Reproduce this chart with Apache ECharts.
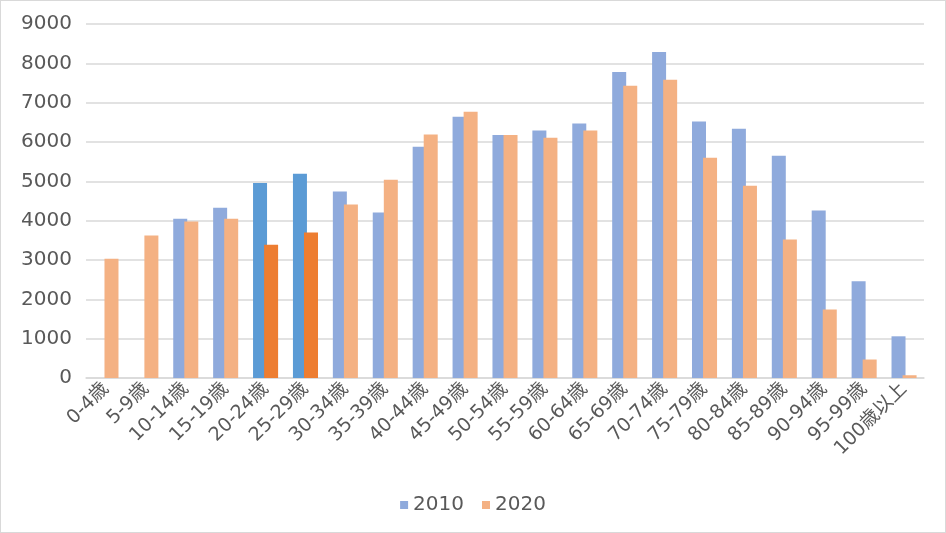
<!DOCTYPE html>
<html><head><meta charset="utf-8">
<script src="https://cdn.jsdelivr.net/npm/echarts@6/dist/echarts.min.js"></script>
<style>html,body{margin:0;padding:0;background:#fff}#c{width:946px;height:533px;box-sizing:border-box;border:1px solid #D9D9D9}</style>
</head><body><div id="c"></div>
<script>
const categories = ['0-4歳','5-9歳','10-14歳','15-19歳','20-24歳','25-29歳','30-34歳','35-39歳','40-44歳','45-49歳','50-54歳','55-59歳','60-64歳','65-69歳','70-74歳','75-79歳','80-84歳','85-89歳','90-94歳','95-99歳','100歳以上'];
const values2010 = [null, null, 4050, 4330, 4960, 5190, 4740, 4210, 5880, 6640, 6180, 6290, 6470, 7780, 8290, 6520, 6340, 5650, 4260, 2460, 1060];
const values2020 = [3030, 3620, 3980, 4050, 3390, 3700, 4410, 5040, 6190, 6770, 6180, 6110, 6290, 7430, 7580, 5600, 4890, 3520, 1740, 470, 70];
const highlightIdx = [4, 5];
const yTicks = [0,1000,2000,3000,4000,5000,6000,7000,8000,9000];

const c2010 = '#8FAADC', c2020 = '#F4B183', h2010 = '#5B9BD5', h2020 = '#ED7D31';
const font = '"DejaVu Sans","Noto Sans CJK JP",sans-serif';
const chart = echarts.init(document.getElementById('c'));
chart.setOption({
  animation: false,
  textStyle: {fontFamily: font},
  grid: {left: 85, right: 21, top: 23, bottom: 154, containLabel: false},
  legend: {
    bottom: 12, left: 'center', itemWidth: 8, itemHeight: 8, itemGap: 18,
    textStyle: {fontSize: 20, color: '#595959', fontFamily: font},
    data: [{name:'2010', icon:'rect'}, {name:'2020', icon:'rect'}]
  },
  xAxis: {
    type: 'category', data: categories,
    axisLine: {show: true, lineStyle: {color: '#D9D9D9', width: 1.5}},
    axisTick: {show: false},
    axisLabel: {rotate: 45, fontSize: 19, color: '#595959', margin: 8, interval: 0, fontFamily: font}
  },
  yAxis: {
    type: 'value', min: yTicks[0], max: yTicks[yTicks.length-1], interval: 1000,
    axisLine: {show: false}, axisTick: {show: false},
    splitLine: {lineStyle: {color: '#D9D9D9', width: 1.5}},
    axisLabel: {fontSize: 20, color: '#595959', margin: 14, fontFamily: font, formatter: v => String(v)}
  },
  series: [
    {name: '2010', type: 'bar', barWidth: 14, barGap: '-21%', itemStyle: {color: c2010},
     data: values2010.map((v,i) => highlightIdx.includes(i) ? {value: v, itemStyle: {color: h2010}} : v)},
    {name: '2020', type: 'bar', barWidth: 14, itemStyle: {color: c2020},
     data: values2020.map((v,i) => highlightIdx.includes(i) ? {value: v, itemStyle: {color: h2020}} : v)}
  ]
});
</script></body></html>
